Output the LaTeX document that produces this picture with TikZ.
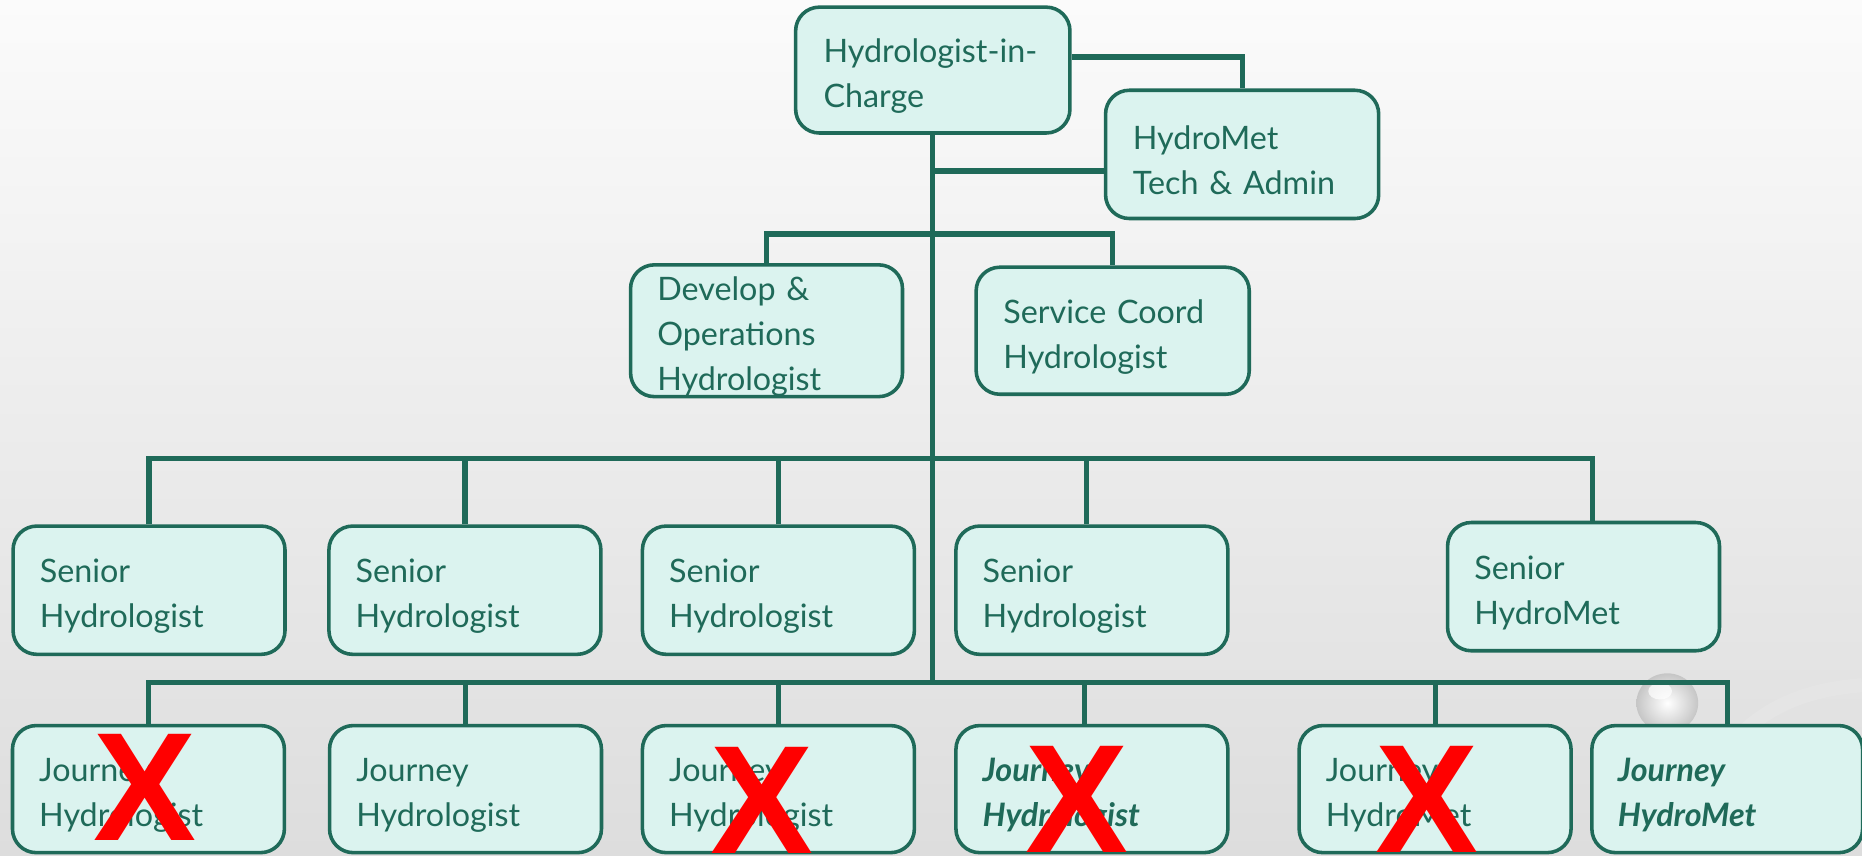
\documentclass[tikz,border=0pt]{standalone}
\usepackage{fontspec}
\setmainfont{Lato}
\newfontfamily\xfont{Liberation Sans}
\definecolor{dgreen}{RGB}{31,106,89}
\definecolor{boxfill}{RGB}{219,243,239}
\begin{document}
\begin{tikzpicture}[x=0.5pt,y=-0.5pt,
  box/.style={draw=dgreen, line width=1.5pt, fill=boxfill, rounded corners=10pt,
    inner xsep=11pt, inner ysep=0pt, align=left, text width=92pt, text=dgreen,
    font=\fontsize{13.6}{19}\selectfont, minimum width=114.5pt, minimum height=54pt,
    execute at begin node={\rule{0pt}{15pt}}},
  bi/.style={font=\fontsize{13.6}{19}\selectfont\bfseries\itshape},
  conn/.style={draw=dgreen, line width=2.2pt},
  xmark/.style={text=red, font=\xfont\bfseries\fontsize{65}{65}\selectfont, inner sep=0pt}]
\useasboundingbox (0,0) rectangle (1568,720);
\shade[top color={rgb,255:red,251;green,251;blue,251}, bottom color={rgb,255:red,221;green,221;blue,221}] (0,0) rectangle (1568,720);
% decorative droplet
\draw[white!80!gray, line width=6pt] (1466,618) .. controls (1495,590) and (1530,580) .. (1568,577);
\shade[inner color=white, outer color=gray!45] (1404,592) ellipse [x radius=13pt, y radius=12.5pt];
\fill[white, opacity=0.7] (1398,582) ellipse [x radius=5pt, y radius=3.5pt];
% coordinates of the buses
\coordinate (busM) at (0,197);
\coordinate (busS) at (0,386);
\coordinate (busJ) at (0,575);
% boxes
\node[box, minimum width=115.5pt, minimum height=53pt] (hic) at (785.5,59) {\mbox{Hydrologist-in-}\\Charge};
\node[box, minimum width=115pt] (tech) at (1046,130) {HydroMet\\\mbox{Tech \& Admin}};
\node[box, minimum height=53.5pt] (dev) at (645.5,278.5) {Develop \&\\Operations\\Hydrologist};
\node[box, minimum width=115pt, minimum height=53.5pt] (svc) at (937,278.5) {\mbox{Service Coord}\\Hydrologist};
\node[box] (s1) at (125.5,497) {Senior\\Hydrologist};
\node[box] (s2) at (391.5,497) {Senior\\Hydrologist};
\node[box] (s3) at (655.5,497) {Senior\\Hydrologist};
\node[box] (s4) at (919.5,497) {Senior\\Hydrologist};
\node[box] (s5) at (1333.5,494) {Senior\\HydroMet};
\node[box, minimum height=53.5pt] (j1) at (125,664.5) {Journey\\Hydrologist};
\node[box, minimum height=53.5pt] (j2) at (392,664.5) {Journey\\Hydrologist};
\node[box, minimum height=53.5pt] (j3) at (655.5,664.5) {Journey\\Hydrologist};
\node[box, minimum height=53.5pt, bi] (j4) at (919.5,664.5) {Journey\\Hydrologist};
\node[box, minimum height=53.5pt] (j5) at (1208.5,664.5) {Journey\\HydroMet};
\node[box, minimum width=111.5pt, minimum height=53.5pt, bi] (j6) at (1454.5,664.5) {Journey\\HydroMet};
% connectors
\coordinate (hr) at ([yshift=5.5pt]hic.east);
\draw[conn] (hr) -| (tech.north);
\coordinate (tw) at ([yshift=-7pt]tech.west);
\draw[conn] (tw) -- (tw -| hic.south);
\draw[conn] (hic.south) -- (hic.south |- busJ);
\draw[conn] (dev.north) -- (dev.north |- busM) -- (svc.north |- busM) -- (svc.north);
\coordinate (s4t) at ([xshift=-2.25pt]s4.north);
\coordinate (s5t) at ([xshift=3.75pt]s5.north);
\draw[conn] (s1.north) -- (s1.north |- busS) -- (s5t |- busS) -- (s5t);
\draw[conn] (s2.north) -- (s2.north |- busS);
\draw[conn] (s3.north) -- (s3.north |- busS);
\draw[conn] (s4t) -- (s4t |- busS);
\coordinate (j4t) at ([xshift=-3.25pt]j4.north);
\draw[conn] (j1.north) -- (j1.north |- busJ) -- (j6.north |- busJ) -- (j6.north);
\draw[conn] (j2.north) -- (j2.north |- busJ);
\draw[conn] (j3.north) -- (j3.north |- busJ);
\draw[conn] (j4t) -- (j4t |- busJ);
\draw[conn] (j5.north) -- (j5.north |- busJ);
% red crosses
\node[xmark] (x1) at (122,663) {X};
\node[xmark] (x3) at (642,674) {X};
\node[xmark] (x4) at (907,673) {X};
\node[xmark] (x5) at (1202,673) {X};
\end{tikzpicture}
\end{document}
